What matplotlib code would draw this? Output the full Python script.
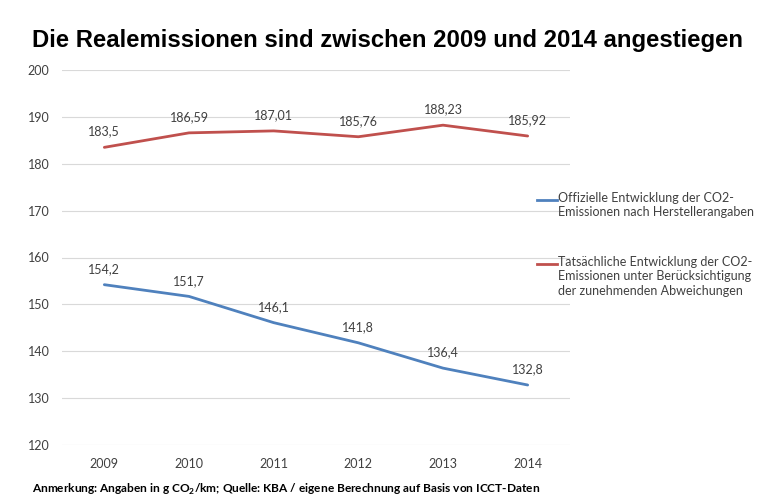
import matplotlib
matplotlib.use("Agg")
import matplotlib.pyplot as plt

years = ["2009", "2010", "2011", "2012", "2013", "2014"]
official = [154.2, 151.7, 146.1, 141.8, 136.4, 132.8]
real = [183.5, 186.59, 187.01, 185.76, 188.23, 185.92]
official_labels = ["154,2", "151,7", "146,1", "141,8", "136,4", "132,8"]
real_labels = ["183,5", "186,59", "187,01", "185,76", "188,23", "185,92"]
yticks = [120, 130, 140, 150, 160, 170, 180, 190, 200]
legend_official = "Offizielle Entwicklung der CO2-\nEmissionen nach Herstellerangaben"
legend_real = "Tatsächliche Entwicklung der CO2-\nEmissionen unter Berücksichtigung\nder zunehmenden Abweichungen"
title = "Die Realemissionen sind zwischen 2009 und 2014 angestiegen"

plt.rcParams['font.family'] = ['Lato', 'DejaVu Sans']
plt.rcParams['mathtext.fontset'] = 'custom'
plt.rcParams['mathtext.rm'] = 'Lato:bold'
plt.rcParams['mathtext.bf'] = 'Lato:bold'

blue = "#4F81BD"
red = "#C0504D"
txt = "#404040"

fig = plt.figure(figsize=(7.58, 5.0), dpi=100)
ax = fig.add_axes([62/758, 1-445/500, (570-62)/758, (445-70)/500])

x = list(range(len(years)))
ax.plot(x, official, color=blue, lw=2.0, solid_capstyle='round')
ax.plot(x, real, color=red, lw=2.0, solid_capstyle='round')

for xi, v, lab in zip(x, official, official_labels):
    ax.annotate(lab, (xi, v), xytext=(0, 7), textcoords='offset points',
                ha='center', va='bottom', fontsize=9, color=txt)
for xi, v, lab in zip(x, real, real_labels):
    ax.annotate(lab, (xi, v), xytext=(0, 7), textcoords='offset points',
                ha='center', va='bottom', fontsize=9, color=txt)

ax.set_xlim(-0.5, len(years) - 0.5)
ax.set_ylim(120, 200)
ax.set_yticks(yticks)
ax.set_yticklabels([str(t) for t in yticks])
ax.set_xticks(x)
ax.set_xticklabels(years)
ax.tick_params(axis='both', length=0, labelsize=9, colors=txt)
ax.tick_params(axis='y', pad=9)
ax.tick_params(axis='x', pad=9)
ax.grid(axis='y', color='#D9D9D9', lw=0.8)
ax.set_axisbelow(True)
for s in ax.spines.values():
    s.set_visible(False)

# legend (manual, in figure coords)
def leg(y, color, text):
    fig.add_artist(plt.Line2D([537/758, 557/758], [1-y/500, 1-y/500], color=color, lw=2.0,
                              transform=fig.transFigure))
    fig.text(558/758, 1-(y-8)/500, text, fontsize=9, color=txt, va='top', ha='left',
             linespacing=1.25)
leg(200, blue, legend_official)
leg(264, red, legend_real)

fig.text(32/758, 1-40/500, title, fontsize=17.2, fontweight='bold', color='black',
         va='center', ha='left', family=['Liberation Sans', 'DejaVu Sans'])
fig.text(32/758, 1-489/500, r"Anmerkung: Angaben in g CO$_\mathbf{2}$/km; Quelle: KBA / eigene Berechnung auf Basis von ICCT-Daten",
         fontsize=8.6, fontweight='bold', color='black', va='center', ha='left')

fig.savefig("out.png", dpi=100, facecolor='white')
